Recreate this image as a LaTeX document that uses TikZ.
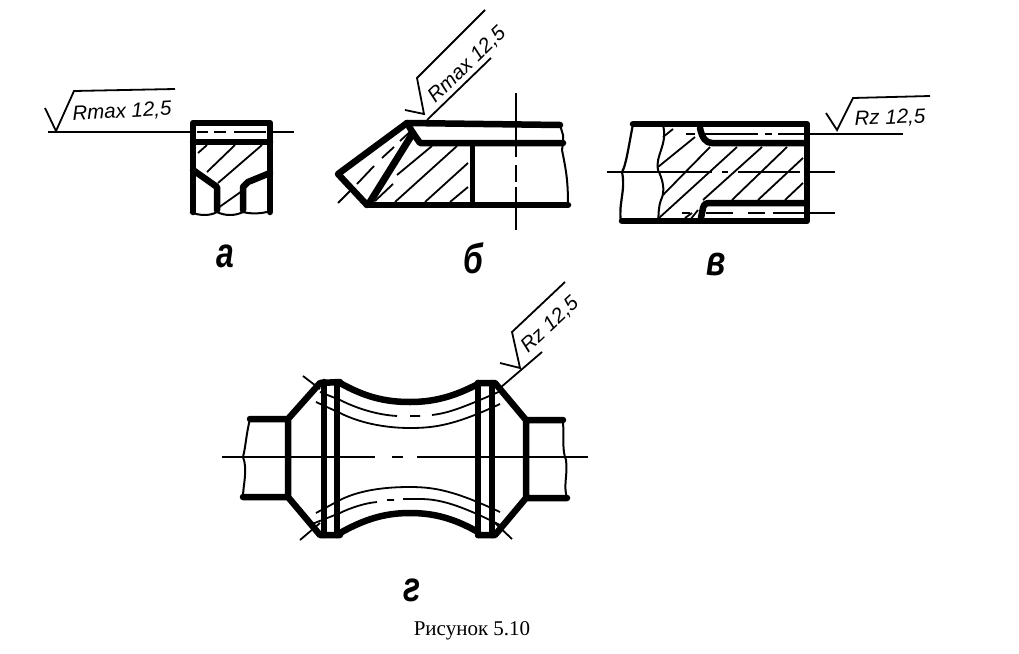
\documentclass[tikz,border=0pt]{standalone}
\usepackage{graphicx}
\usepackage{fontspec}
\setmainfont{Liberation Serif}
\setsansfont{Liberation Sans}
\newcommand{\tallglyph}[1]{\scalebox{1.1}[1.45]{#1}}
\begin{document}
\begin{tikzpicture}[x=1pt,y=-1pt,
  thickl/.style={line width=6.5pt,line join=round,line cap=round},
  medl/.style={line width=5pt,line join=round,line cap=round},
  thinl/.style={line width=1.8pt},
  wave/.style={line width=2pt},
  hatchl/.style={line width=1.8pt},
  draft/.style={font=\sffamily\itshape\fontsize{20.5}{20.5}\selectfont,inner sep=0pt},
  letter/.style={font=\sffamily\itshape\bfseries\fontsize{29}{29}\selectfont,inner sep=0pt},
  caption/.style={font=\fontsize{21}{21}\selectfont,inner sep=0pt}]
\useasboundingbox (0,0) rectangle (1019,653);
\fill[white] (0,0) rectangle (1019,653);

% --- a ---
\draw[thinl] (48,132) -- (190,132) (270,132) -- (294,132);
\draw[thinl] (45,108) -- (56,131) -- (74,91) -- (175,89);
\node[draft,rotate=3] (ta) at (122,112) {Rmax 12,5};
\draw[thickl] (217,210) -- (217,187) -- (193,170);
\draw[thickl] (243,210) -- (243,187) -- (248,182) -- (270,173);
\draw[thickl] (193,212) -- (193,123) -- (270,123) -- (270,212);
\draw[thickl] (193,142) -- (270,142);
\draw[thinl] (197,132) -- (208,132) (214,132) -- (226,132) (234,132) -- (266,132);
\draw[wave] (190,212) .. controls (200,216) and (210,216) .. (217,212) .. controls (225,216) and (235,216) .. (243,212) .. controls (250,214) and (262,214) .. (270,211);
\draw[hatchl] (198,153) -- (207,145) (207,172) -- (235,145) (218,183) -- (262,145) (218,208) -- (242,191);

% --- b ---
\draw[thickl] (367,205) -- (338,174) -- (407,123) -- (560,125);
\draw[thickl] (407,123) -- (413,133) -- (420,143) -- (563,143);
\draw[line width=7pt,line cap=round] (413,133) -- (370,202);
\draw[thickl] (367,205) -- (568,205);
\draw[medl] (472,143) -- (472,205);
\draw[wave] (560,125) -- (563,135) -- (563,143) -- (562,150) .. controls (566,170) and (568,180) .. (568,205);
\draw[thinl] (338,203) -- (350,191) (357,184) -- (374,166) (382,158) -- (394,147) (400,141) -- (412,130);
\draw[thinl] (516,93) -- (516,157) (516,165) -- (516,182) (516,187) -- (516,230);
\draw[hatchl] (397,175) -- (432,146) (375,201) -- (393,184) (395,202) -- (457,146) (425,202) -- (468,163) (450,202) -- (468,187);
\draw[thinl] (427,120) -- (491,58);
\draw[thinl] (405,110) -- (424,114) -- (417,78) -- (485,10);
\node[draft,rotate=44] (tb) at (467,65) {Rmax 12,5};

% --- v ---
\draw[thickl] (633,124) -- (807,124) -- (807,221) -- (622,221);
\draw[thickl] (700,128) .. controls (702,138) and (706,143) .. (712,143) -- (805,143);
\draw[thickl] (701,218) -- (703,208) .. controls (704,204) and (706,203) .. (710,203) -- (805,203);
\draw[line width=2.2pt] (633,124) .. controls (628,150) and (626,165) .. (622,172) .. controls (626,190) and (618,205) .. (621,221);
\draw[wave] (663,125) .. controls (668,145) and (655,155) .. (658,170) .. controls (662,178) and (666,190) .. (661,200) .. controls (658,208) and (659,215) .. (658,220);
\draw[thinl] (607,172) -- (712,172) (722,172) -- (728,172) (738,172) -- (800,172) (807,172) -- (835,172);
\draw[thinl] (686,134) -- (695,134) (705,134) -- (758,134) (765,134) -- (772,134) (778,134) -- (903,134);
\draw[thinl] (706,213) -- (733,213) (748,213) -- (765,213) (773,213) -- (835,213) (682,213) -- (690,213);
\draw[thinl] (826,113) -- (837,130) -- (853,98) -- (930,96);
\node[draft,rotate=2] (tv) at (890,118) {Rz 12,5};
\draw[hatchl] (663,137) -- (673,129) (658,167) -- (695,137) (663,195) -- (710,147) (659,218) -- (737,147) (703,200) -- (762,147) (732,200) -- (787,147) (758,200) -- (803,158) (785,200) -- (803,183) (685,218) -- (692,213) (690,220) -- (698,210);

% --- g ---
\draw[thickl] (250,419) -- (288,419) -- (320,383) -- (340,382) (288,419) -- (288,497) -- (320,535) -- (340,535) (243,497) -- (288,497);
\draw[thickl] (526,420) -- (495,383) -- (478,383) (563,420) -- (526,420) -- (526,498) -- (567,498) (526,498) -- (495,535) -- (478,535);
\draw[line width=6.5pt,line cap=round] (324,382) -- (324,535) (337,383) -- (337,535) (478,383) -- (478,535) (492,383) -- (492,535);
\draw[line width=6.5pt,line cap=round] (340,383) .. controls (365,397) and (385,402) .. (410,402) .. controls (435,402) and (455,396) .. (478,384);
\draw[line width=6.5pt,line cap=round] (340,533) .. controls (365,519) and (385,513) .. (410,513) .. controls (435,513) and (455,519) .. (478,532);
\draw[wave] (250,419) .. controls (246,435) and (246,445) .. (243,457) .. controls (248,470) and (243,485) .. (243,497);
\draw[wave] (563,420) .. controls (564,440) and (562,450) .. (566,460) .. controls (568,475) and (563,485) .. (567,498);
\draw[thinl] (222,457) -- (375,457) (392,457) -- (403,457) (417,457) -- (588,457);
% upper thin curves
\draw[thinl] (320,392) -- (340,400) .. controls (360,410) and (380,415) .. (397,416) (410,416) -- (420,416) (432,415) .. controls (448,413) and (460,409) .. (503,390);
\draw[thinl] (316,402) -- (340,413) .. controls (360,423) and (385,428) .. (410,428) .. controls (435,428) and (455,425) .. (500,404);
% lower thin curves
\draw[thinl] (312,524) -- (340,513) .. controls (350,508) and (365,503) .. (377,502) (387,500) -- (394,500) (403,499) -- (420,499) .. controls (440,499) and (460,505) .. (500,525);
\draw[thinl] (316,513) -- (340,500) .. controls (360,490) and (385,487) .. (410,487) .. controls (435,487) and (455,491) .. (500,512);
% corner lines
\draw[thinl] (303,376) -- (320,389);
\draw[thinl] (300,540) -- (320,523);
\draw[thinl] (495,523) -- (512,539);
\draw[thinl] (500,388) -- (542,352);
\draw[thinl] (500,363) -- (520,368) -- (512,332) -- (565,282);
\node[draft,rotate=43] (tg) at (550,325) {Rz 12,5};

% --- labels ---
\node[letter] (la) at (225,256) {\tallglyph{а}};
\node[letter] (lb) at (473,258) {\tallglyph{б}};
\node[letter] (lv) at (716,264) {\tallglyph{в}};
\node[letter] (lg) at (412,590) {\tallglyph{г}};
\node[caption] (cap) at (472,631) {Рисунок 5.10};
\end{tikzpicture}
\end{document}
